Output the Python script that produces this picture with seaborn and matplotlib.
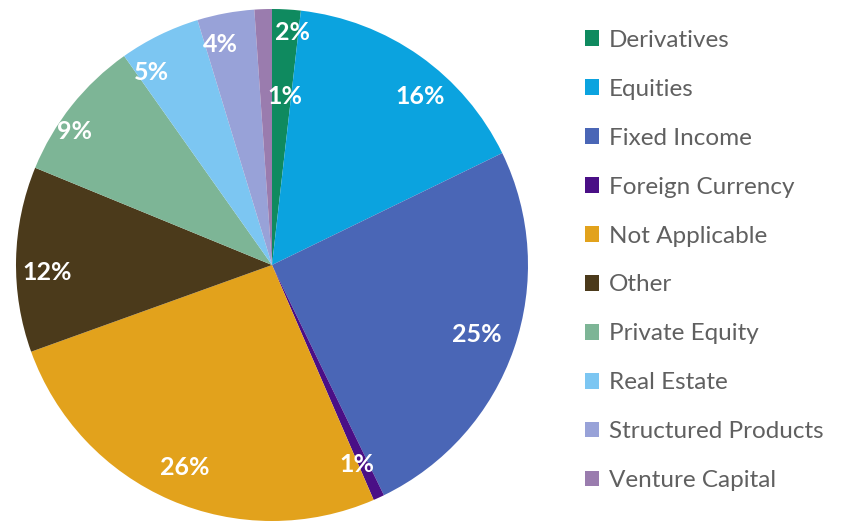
import matplotlib
matplotlib.use("Agg")
import matplotlib.pyplot as plt
import seaborn as sns

sns.set_theme(style="white")
plt.rcParams['font.family'] = ['Lato', 'DejaVu Sans']

# slice shares (percent)
categories = ["Derivatives", "Equities", "Fixed Income", "Foreign Currency",
              "Not Applicable", "Other", "Private Equity", "Real Estate",
              "Structured Products", "Venture Capital"]
shares = [1.8, 16.0, 25.0, 0.7, 26.0, 11.7, 9.0, 5.1, 3.6, 1.1]
colors = ["#0f8a5f", "#0ba3df", "#4a66b6", "#4a0f86", "#e2a21c",
          "#4b3a1b", "#7db596", "#7cc6f2", "#98a2d8", "#9a7cae"]

# where each percentage label sits (pie radius = 1)
label_pos = [(0.08, 0.91), (0.58, 0.66), (0.80, -0.27), (0.33, -0.78),
             (-0.34, -0.79), (-0.88, -0.03), (-0.77, 0.52), (-0.47, 0.75),
             (-0.20, 0.86), (0.05, 0.66)]

fig = plt.figure(figsize=(8.43, 5.24), dpi=100)
ax = fig.add_axes([272 / 843 - 256 / 843, (524 - 265 - 256) / 524, 512 / 843, 512 / 524])

wedges, texts, autotexts = ax.pie(
    shares, colors=colors, startangle=90, counterclock=False,
    autopct='%.0f%%', radius=1, wedgeprops=dict(linewidth=0),
    textprops=dict(color="white", fontsize=18, fontweight="bold"))
for t, (x, y) in zip(autotexts, label_pos):
    t.set_position((x, y))
    t.set_ha("center")
    t.set_va("center")

ax.set_xlim(-1, 1)
ax.set_ylim(-1, 1)
ax.set_aspect("equal")
ax.axis("off")

leg = fig.legend(wedges, categories, loc="upper left", bbox_to_anchor=(575 / 843, 1 - 20 / 524),
                 frameon=False, fontsize=17.5, handlelength=0.6, handleheight=0.6,
                 handletextpad=0.4, labelspacing=1.15, borderaxespad=0)
for t in leg.get_texts():
    t.set_color("#606060")

fig.savefig("out.png", dpi=100)
